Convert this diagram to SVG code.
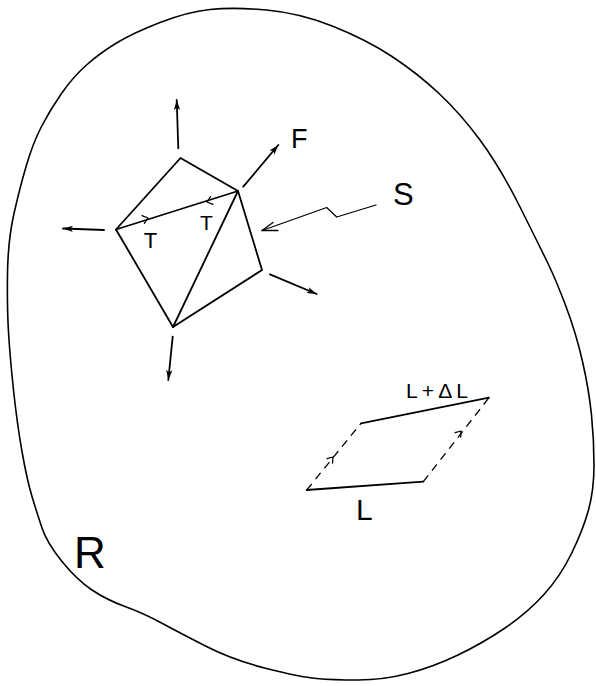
<svg xmlns="http://www.w3.org/2000/svg" width="596" height="686" viewBox="0 0 596 686">
<defs>
<style>
.ln{fill:none;stroke:#000;stroke-width:1.8;stroke-linecap:round;stroke-linejoin:round}
.th{fill:none;stroke:#000;stroke-width:1.3;stroke-linecap:round;stroke-linejoin:round}
.ds{fill:none;stroke:#000;stroke-width:1.3;stroke-dasharray:8 6}
.lb{font-family:"Liberation Sans",Arial,sans-serif;fill:#000}
</style>
<marker id="ah" markerUnits="userSpaceOnUse" markerWidth="12" markerHeight="9" refX="10" refY="4" orient="auto">
<path d="M0,0.8 L10,4 L0,7.2 L2.5,4 Z" fill="#000"/>
</marker>
</defs>
<rect width="596" height="686" fill="#fff"/>
<g id="region-R">
<path class="ln" style="stroke-width:1.6" d="M266.5,10 Q300,13 333.5,26.5 Q367,40 392,56.5 Q417,73 438.5,93 Q460,113 480,140 Q500,167 520,207 Q540,247 548,263.5 Q556,280 566,306.5 Q576,333 582.5,361.5 Q589,390 591.5,415 Q594,440 594,465 Q594,490 588.5,510 Q583,530 571.5,553.5 Q560,577 543.5,595 Q527,613 505,628 Q483,643 458,655 Q433,667 408,673.5 Q383,680 358,680 Q333,680 316.5,678.5 Q300,677 266.5,668.5 Q233,660 206.5,646.5 Q180,633 161.5,623 Q143,613 125,606.5 Q107,600 92,590 Q77,580 62,561.5 Q47,543 42,528 Q37,513 32,496.5 Q27,480 22,451.5 Q17,423 13.5,390 Q10,357 8.5,332 Q7,307 7.5,273.5 Q8,240 14,213.5 Q20,187 26.5,165 Q33,143 41.5,126.5 Q50,110 61.5,93.5 Q73,77 86.5,65 Q100,53 116.5,43 Q133,33 160,22.5 Q187,12 210,9.5 Q233,7 266.5,10 Z"/>
<text class="lb" x="74" y="568" font-size="44">R</text>
</g>
<g id="element">
<path class="ln" d="M180.5,158 L238,191 L262,270 L173,327 L116,229.5 Z"/>
<path class="ln" d="M116,229.5 L238,191 L173,327"/>
<path class="th" d="M142,215.7 L148,218 L144.4,223.3"/>
<path class="th" d="M210.6,196.7 L207,202 L213,204.3"/>
<text class="lb" x="150.5" y="248" font-size="22" text-anchor="middle">T</text>
<text class="lb" x="206.5" y="230" font-size="21" text-anchor="middle">T</text>
</g>
<g id="connectors">
<line class="ln" x1="178.3" y1="148.3" x2="176.7" y2="100" marker-end="url(#ah)"/>
<line class="ln" x1="243.3" y1="186.7" x2="278.3" y2="145" marker-end="url(#ah)"/>
<line class="ln" x1="104" y1="230" x2="63" y2="228.5" marker-end="url(#ah)"/>
<line class="ln" x1="270" y1="274.3" x2="316.7" y2="294" marker-end="url(#ah)"/>
<line class="ln" x1="172.7" y1="336.7" x2="168.3" y2="380" marker-end="url(#ah)"/>
<polyline class="th" points="376,205 336.7,217 326.7,207.5 262,230.5"/>
<polyline class="th" points="273,222.5 262,230.5 278,230.5"/>
</g>
<g id="label-F"><text class="lb" x="291" y="148" font-size="27">F</text></g>
<g id="label-S"><text class="lb" x="393" y="205" font-size="31">S</text></g>
<g id="parallelogram">
<line class="ln" x1="306.7" y1="490" x2="423.3" y2="481.7"/>
<line class="ln" x1="361" y1="423.3" x2="489" y2="397.7"/>
<line class="ds" x1="306.7" y1="490" x2="361" y2="423.3"/>
<line class="ds" x1="423.3" y1="481.7" x2="489" y2="397.7"/>
<path class="th" d="M327.1,458.7 L333,457 L332.5,463.1"/>
<path class="th" d="M455.1,432.7 L461,431 L460.7,437.1"/>
<text class="lb" x="406" y="398" font-size="21" textLength="62" lengthAdjust="spacing">L+ΔL</text>
<text class="lb" x="356" y="520" font-size="30">L</text>
</g>
</svg>
